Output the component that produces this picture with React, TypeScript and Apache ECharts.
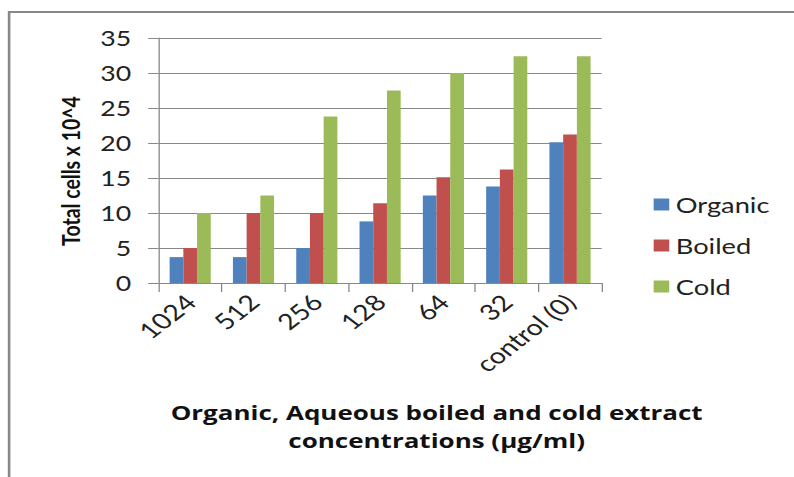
import React, { useEffect, useRef } from "react";
import * as echarts from "echarts";

const categories = ["1024", "512", "256", "128", "64", "32", "control (0)"];
const organic = [3.7, 3.7, 5, 8.8, 12.5, 13.8, 20.1];
const boiled = [5, 10, 10, 11.4, 15.1, 16.2, 21.2];
const cold = [10, 12.5, 23.8, 27.5, 30, 32.4, 32.4];
const seriesNames = ["Organic", "Boiled", "Cold"];
const colors = ["#4F81BD", "#C0504D", "#9BBB59"];
const yTitle = "Total cells x 10^4";
const xTitle = "Organic, Aqueous boiled and cold extract\nconcentrations (µg/ml)";

const FONT = "Lato, 'Open Sans', sans-serif";
const TITLE_FONT = "'Open Sans', Lato, sans-serif";
// the reference picture is stretched horizontally; draw narrower and stretch
const W = 611;
const H = 477;
const K = 794 / W;

export default function App() {
  const ref = useRef<HTMLDivElement>(null);
  useEffect(() => {
    if (!ref.current) return;
    const chart = echarts.init(ref.current, null, { renderer: "svg" });
    const values = [organic, boiled, cold];
    chart.setOption({
      animation: false,
      backgroundColor: "#ffffff",
      textStyle: { fontFamily: FONT },
      grid: { left: 122, right: 148, top: 38, bottom: 194, containLabel: false },
      legend: {
        orient: "vertical",
        left: 498,
        top: 189,
        itemWidth: 12,
        itemHeight: 12,
        itemGap: 20,
        icon: "rect",
        textStyle: { fontFamily: FONT, fontSize: 21, color: "#222" },
        data: seriesNames,
      },
      xAxis: {
        type: "category",
        data: categories,
        axisLine: { lineStyle: { color: "#888", width: 1 } },
        axisTick: { show: true, length: 9, lineStyle: { color: "#888" } },
        axisLabel: {
          rotate: 45,
          fontSize: 22,
          color: "#222",
          fontFamily: FONT,
          margin: 15,
          interval: 0,
        },
        splitLine: { show: false },
      },
      yAxis: {
        type: "value",
        min: 0,
        max: 35,
        interval: 5,
        axisLine: { show: true, lineStyle: { color: "#888" } },
        axisTick: { show: true, length: 8, lineStyle: { color: "#888" } },
        axisLabel: { fontSize: 20.5, color: "#222", fontFamily: FONT, margin: 21 },
        splitLine: { lineStyle: { color: "#888", width: 1 } },
      },
      graphic: [
        {
          type: "polyline",
          shape: { points: [[7, 477], [7, 12], [611, 12]] },
          style: { stroke: "#888", lineWidth: 2, fill: "none" },
          silent: true,
        },
        {
          type: "text",
          x: 54,
          y: 171,
          rotation: Math.PI / 2,
          style: {
            text: yTitle,
            x: 0,
            y: 0,
            align: "center",
            verticalAlign: "middle",
            fontSize: 19.5,
            fontWeight: "bold",
            fontFamily: FONT,
            fill: "#111",
          },
        },
        {
          type: "text",
          x: 336,
          y: 398,
          style: {
            text: xTitle,
            x: 0,
            y: 0,
            align: "center",
            fontSize: 20,
            fontWeight: "bold",
            fontFamily: TITLE_FONT,
            fill: "#111",
            lineHeight: 28,
          },
        },
      ],
      series: seriesNames.map((n, i) => ({
        name: n,
        type: "bar",
        data: values[i],
        itemStyle: { color: colors[i] },
        barGap: "0%",
        barCategoryGap: "35%",
      })),
    });
    return () => chart.dispose();
  }, []);
  return (
    <div
      style={{
        position: "fixed",
        left: 0,
        top: 0,
        width: 794,
        height: 477,
        overflow: "hidden",
        background: "#fff",
      }}
    >
      <div
        ref={ref}
        style={{
          width: W,
          height: H,
          transform: `scaleX(${K})`,
          transformOrigin: "0 0",
        }}
      />
    </div>
  );
}
